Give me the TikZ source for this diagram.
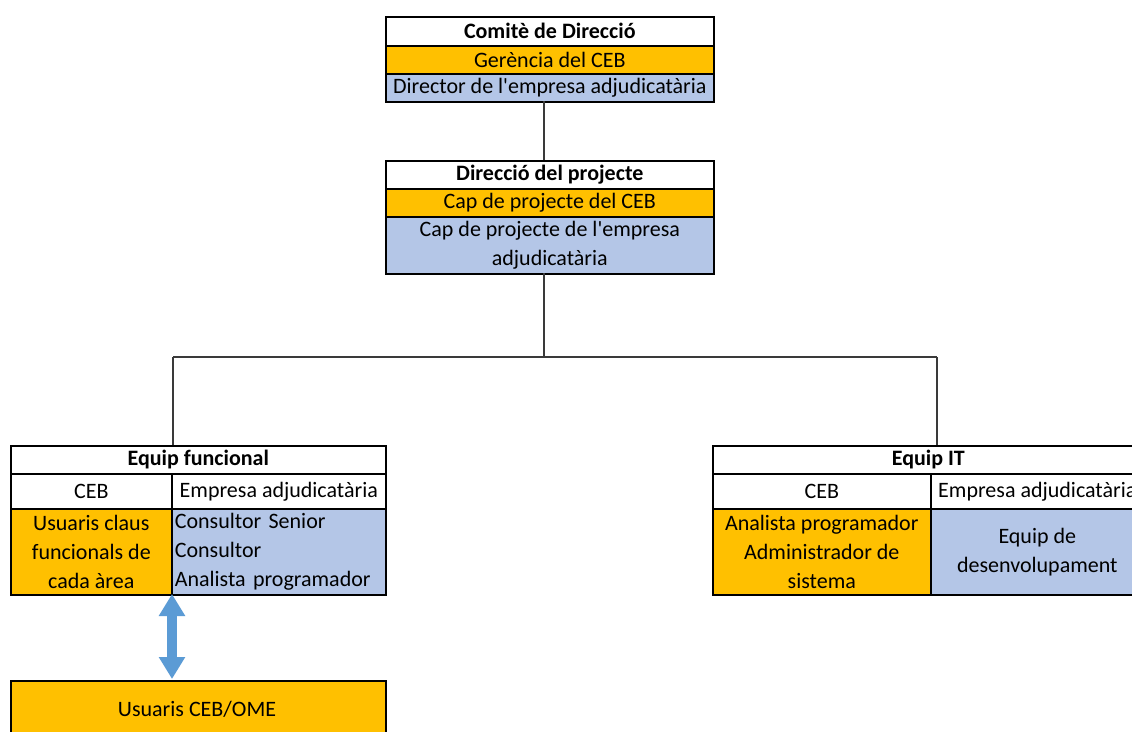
\documentclass[tikz,border=0pt]{standalone}
\usepackage{fontspec}
\setmainfont{Carlito}[Ligatures=TeXOff]
\usetikzlibrary{arrows.meta}
\definecolor{ceborange}{HTML}{FFC000}
\definecolor{empblue}{HTML}{B4C6E7}
\definecolor{linkgray}{HTML}{3A3A3A}
\definecolor{arrowblue}{HTML}{5B9BD5}
\tikzset{
  cell/.style={draw=black, line width=1.6pt, rectangle, inner sep=0pt,
    anchor=north west, align=center, font=\fontsize{22}{29}\selectfont},
  titlecell/.style={cell, fill=white, font=\fontsize{22}{29}\selectfont\bfseries},
  plaincell/.style={cell, fill=white},
  cebcell/.style={cell, fill=ceborange},
  empcell/.style={cell, fill=empblue},
  link/.style={draw=linkgray, line width=1.4pt},
  usersarrow/.style={draw=arrowblue, line width=10pt,
    {Triangle[length=22pt,width=25pt]}-{Triangle[length=22pt,width=25pt]}}
}
\begin{document}
\begin{tikzpicture}[x=1pt,y=-1pt]
\clip (0,0) rectangle (1132,731);
\fill[white] (0,0) rectangle (1132,731);

% Comite de Direccio
\node[titlecell, minimum width=328pt, minimum height=29pt] (cd) at (385,16) {Comitè de Direcció};
\node[cebcell, minimum width=328pt, minimum height=28pt] (cdceb) at (385,45) {Gerència del CEB};
\node[empcell, minimum width=328pt, minimum height=28pt] (cdemp) at (385,73) {Director de l'empresa adjudicatària};

% Direccio del projecte
\node[titlecell, minimum width=328pt, minimum height=28pt] (dp) at (385,160) {Direcció del projecte};
\node[cebcell, minimum width=328pt, minimum height=28pt] (dpceb) at (385,188) {Cap de projecte del CEB};
\node[empcell, minimum width=328pt, minimum height=57pt] (dpemp) at (385,216) {Cap de projecte de l'empresa\\adjudicatària};

% Equip funcional
\node[titlecell, minimum width=375pt, minimum height=28pt] (ef) at (10,445) {Equip funcional};
\node[plaincell, minimum width=161pt, minimum height=35pt] (efh1) at (10,473) {CEB};
\node[plaincell, minimum width=214pt, minimum height=35pt] (efh2) at (171,473) {Empresa adjudicatària};
\node[cebcell, minimum width=161pt, minimum height=86pt] (efceb) at (10,508) {Usuaris claus\\funcionals de\\cada àrea};
\node[empcell, minimum width=214pt, minimum height=86pt, text width=208pt, inner xsep=3pt, align=left] (efemp) at (171,508) {Consultor Senior\\Consultor\\Analista programador};

% Equip IT
\node[titlecell, minimum width=431pt, minimum height=28pt] (eit) at (712,445) {Equip IT};
\node[plaincell, minimum width=218pt, minimum height=35pt] (eith1) at (712,473) {CEB};
\node[plaincell, minimum width=213pt, minimum height=35pt] (eith2) at (930,473) {Empresa adjudicatària};
\node[cebcell, minimum width=218pt, minimum height=86pt] (eitceb) at (712,508) {Analista programador\\Administrador de\\sistema};
\node[empcell, minimum width=213pt, minimum height=86pt] (eitemp) at (930,508) {Equip de\\desenvolupament};

% Usuaris
\node[cebcell, minimum width=375pt, minimum height=80pt] (users) at (10,680) {};
\node[font=\fontsize{22}{29}\selectfont, inner sep=0pt] (userslabel) at (197,709) {Usuaris CEB/OME};

% Connectors
\coordinate (top1) at (544,101);
\coordinate (top2) at (544,160);
\coordinate (mid1) at (544,273);
\coordinate (hub) at (544,357);
\coordinate (hubl) at (173,357);
\coordinate (hubr) at (937,357);
\coordinate (efin) at (173,445);
\coordinate (eitin) at (937,445);
\draw[link] (top1) -- (top2);
\draw[link] (mid1) -- (hub);
\draw[link] (hubl) -- (hubr);
\draw[link] (hubl) -- (efin);
\draw[link] (hubr) -- (eitin);

% Double arrow between key users and all users
\coordinate (arrtop) at (172,594);
\coordinate (arrbot) at (172,679);
\draw[usersarrow] (arrtop) -- (arrbot);
\end{tikzpicture}
\end{document}
